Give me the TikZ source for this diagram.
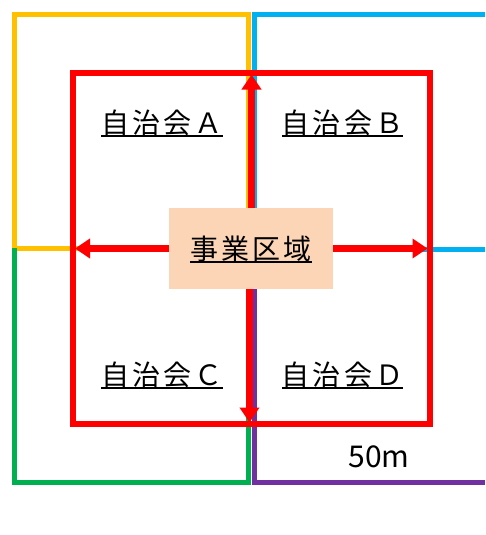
\documentclass[tikz,border=0pt]{standalone}
\usepackage{fontspec}
\newfontfamily\jp{Noto Sans CJK JP}
\newfontfamily\jpsp[LetterSpace=11]{Noto Sans CJK JP}
\usetikzlibrary{arrows.meta}
\definecolor{cyel}{HTML}{FFC000}
\definecolor{cblu}{HTML}{00B0F0}
\definecolor{cgrn}{HTML}{00B050}
\definecolor{cpur}{HTML}{7030A0}
\definecolor{cred}{HTML}{FF0000}
\definecolor{cpeach}{HTML}{FBD5B5}
\newcommand\myul[1]{\setbox0\hbox{#1}\leavevmode\rlap{\rule[-4pt]{\wd0}{2pt}}\box0}
\begin{document}
\begin{tikzpicture}[x=1pt,y=-1pt,
  zone/.style={line width=5pt, line cap=butt, line join=miter},
  lbl/.style={font=\jpsp\fontsize{28}{30}\selectfont, inner sep=0pt, anchor=base},
  redarr/.style={draw=cred, line width=7pt, -{Triangle[width=19pt,length=15pt]}}]
\useasboundingbox (0,0) rectangle (485,535);
% zone outlines
\draw[zone, cyel] (14,248) -- (14,14.5) -- (248,14.5) -- (248,208);
\draw[zone, cyel] (14,248) -- (169,248);
\draw[zone, cblu] (485,14.5) -- (254,14.5) -- (254,208);
\draw[zone, cblu] (333,249) -- (485,249);
\draw[zone, cgrn] (14,248) -- (14,482) -- (248,482) -- (248,289);
\draw[zone, cpur] (254,289) -- (254,482) -- (485,482);
% red area
\node[draw=cred, line width=6pt, outer sep=0pt, inner sep=0pt, minimum width=356.5pt, minimum height=351pt] (area) at (251.25,248.5) {};
% project area node
\node[fill=cpeach, inner sep=0pt, minimum width=164pt, minimum height=81pt, outer sep=0pt] (zone) at (251,248.5) {};
\node[lbl] (zt) at (251,259) {\myul{事業区域}};
% arrows
\draw[redarr] ([xshift=0.5pt]zone.north) -- ([xshift=0.25pt,yshift=-1.5pt]area.north);
\draw[redarr] (zone.west) -- ([xshift=2pt]area.west);
\draw[redarr] (zone.east) -- ([xshift=-2pt]area.east);
\draw[redarr] ([xshift=-1.5pt]zone.south) -- ([xshift=-1.75pt,yshift=1.5pt]area.south);
% labels
\node[lbl] (la) at (162,133) {\myul{自治会Ａ}};
\node[lbl] (lb) at (342.5,133) {\myul{自治会Ｂ}};
\node[lbl] (lc) at (162,385) {\myul{自治会Ｃ}};
\node[lbl] (ld) at (342.5,385) {\myul{自治会Ｄ}};
\node[lbl, font=\jp\fontsize{30}{32}\selectfont] (dist) at (379,467) {50m};
\end{tikzpicture}
\end{document}
